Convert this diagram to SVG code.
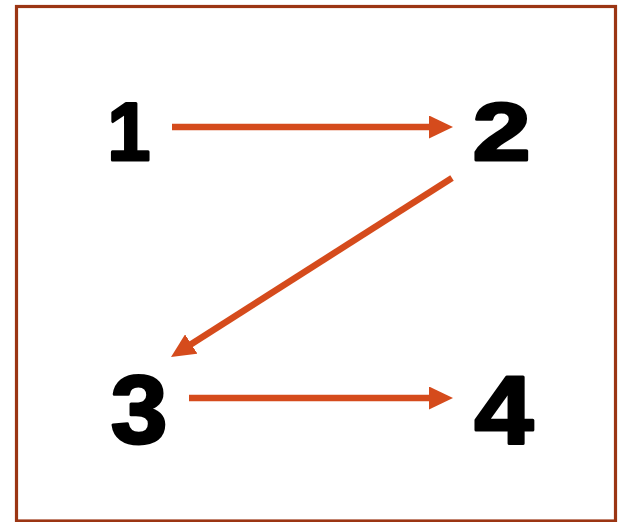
<svg xmlns="http://www.w3.org/2000/svg" width="628" height="522" viewBox="0 0 628 522">
  <style>
    .frame { fill: #ffffff; stroke: #9b3513; stroke-width: 3.2; }
    .num { font-family: "Liberation Sans", Arial, sans-serif; font-weight: bold; fill: #000; stroke: #000; stroke-width: 3; stroke-linejoin: round; text-anchor: middle; }
    .edge { stroke: #d54b1c; stroke-width: 6.5; fill: none; marker-end: url(#ah); }
  </style>
  <defs>
    <marker id="ah" markerUnits="userSpaceOnUse" markerWidth="24" markerHeight="23" refX="4" refY="11.5" orient="auto">
      <path d="M0,0 L24,11.5 L0,23 z" fill="#d54b1c"/>
    </marker>
  </defs>
  <rect class="frame" x="16.5" y="6.5" width="599" height="514.5"/>
  <g id="connectors">
    <line class="edge" x1="172" y1="127" x2="433" y2="127"/>
    <line class="edge" x1="452" y1="178" x2="187.9" y2="346.2"/>
    <line class="edge" x1="189" y1="398" x2="433" y2="398"/>
  </g>
  <g id="node1"><text class="num" font-size="81" transform="translate(129,159.5) scale(0.95,1)">1</text></g>
  <g id="node2"><text class="num" font-size="81" transform="translate(501.5,159.5) scale(1.28,1)">2</text></g>
  <g id="node3"><text class="num" font-size="97" transform="translate(139,443) scale(1.05,1)">3</text></g>
  <g id="node4"><text class="num" font-size="97" transform="translate(504,443.5) scale(1.09,1)">4</text></g>
</svg>
